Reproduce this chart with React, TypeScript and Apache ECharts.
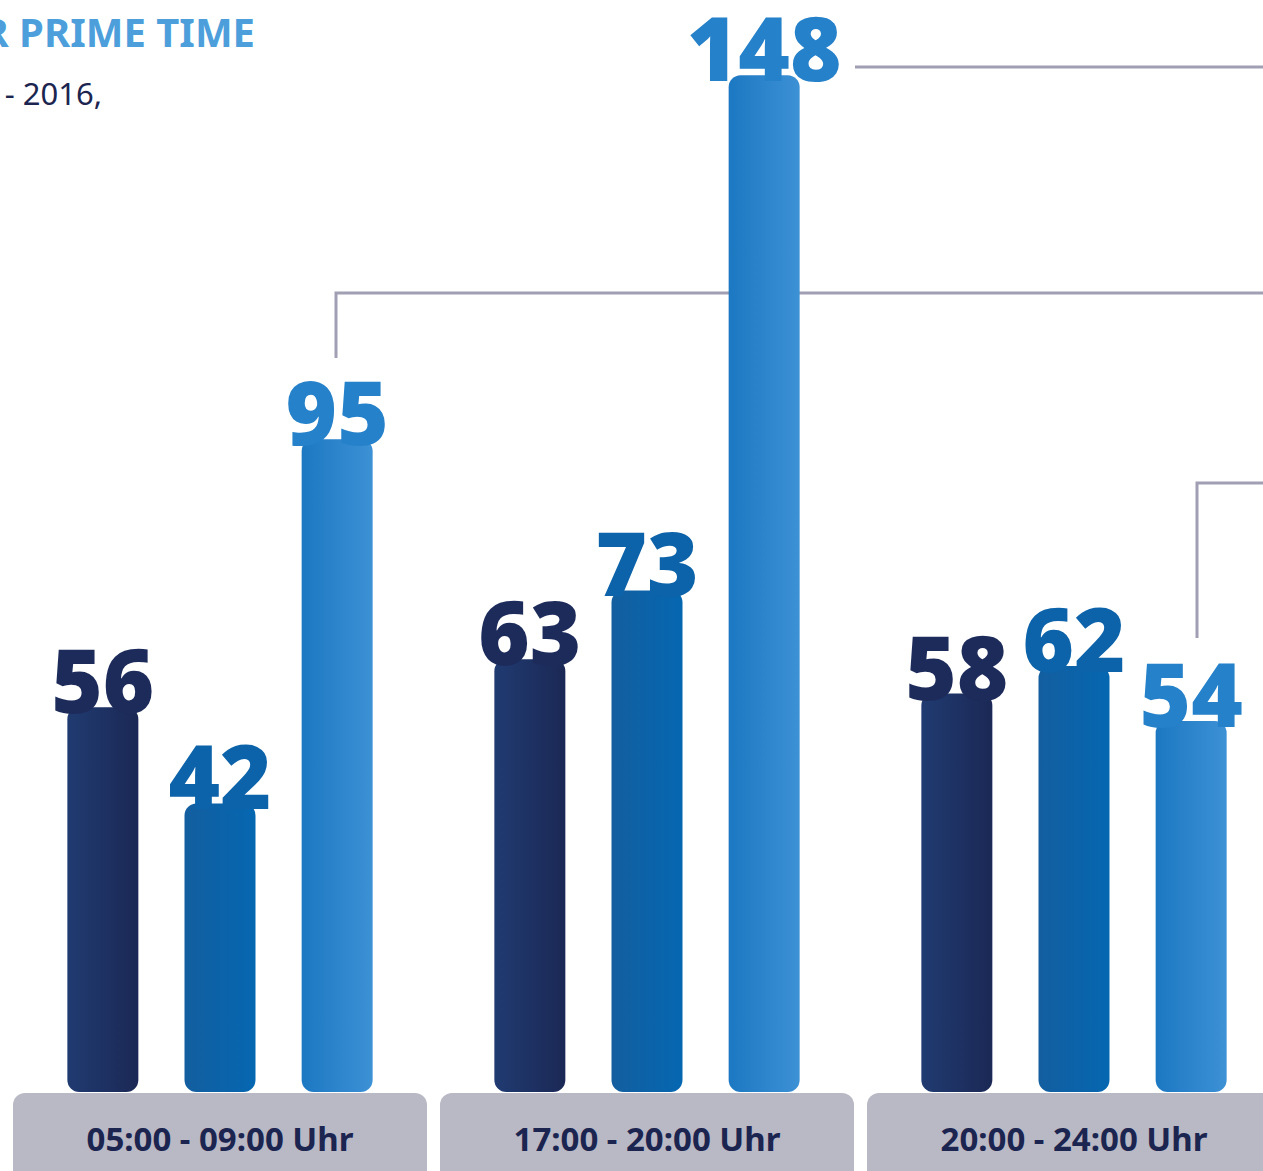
import React, { useEffect, useRef } from "react";
import * as echarts from "echarts";

const categories = ["05:00 - 09:00 Uhr", "17:00 - 20:00 Uhr", "20:00 - 24:00 Uhr"];
const seriesA = [56, 63, 58];
const seriesB = [42, 73, 62];
const seriesC = [95, 148, 54];
const titleText = "R PRIME TIME";
const subtitleText = "- 2016,";

const FONT = "'Noto Sans', 'Open Sans', sans-serif";
const LINE = "#a19fb3";

function grad(left: string, right: string) {
  return new echarts.graphic.LinearGradient(0, 0, 1, 0, [
    { offset: 0, color: left },
    { offset: 1, color: right },
  ]);
}

function barSeries(name: string, data: number[], left: string, right: string, labelColor: string) {
  return {
    name,
    type: "bar",
    data,
    z: 5,
    barWidth: 71,
    barGap: "65%",
    itemStyle: { color: grad(left, right), borderRadius: 12 },
    label: {
      show: true,
      position: "top",
      distance: -7,
      color: labelColor,
      fontFamily: FONT,
      fontWeight: 900,
      fontSize: 88,
      lineHeight: 70,
    },
  };
}

export default function App() {
  const ref = useRef<HTMLDivElement>(null);
  useEffect(() => {
    document.body.style.margin = "0";
    const chart = echarts.init(ref.current!, null, { renderer: "svg" });
    chart.setOption({
      animation: false,
      backgroundColor: "#ffffff",
      grid: { left: 6.5, width: 1281, top: 61.5, height: 1030.5, outerBoundsMode: "none", containLabel: false },
      xAxis: {
        type: "category",
        data: categories,
        axisLine: { show: false },
        axisTick: { show: false },
        axisLabel: {
          interval: 0,
          margin: 1,
          backgroundColor: "#b9b8c5",
          borderRadius: 12,
          width: 414,
          height: 90,
          lineHeight: 90,
          align: "center",
          color: "#1b2550",
          fontFamily: FONT,
          fontWeight: 700,
          fontSize: 33,
        },
      },
      yAxis: {
        type: "value",
        min: 0,
        max: 150,
        show: false,
        splitLine: { show: false },
      },
      series: [
        barSeries("A", seriesA, "#203b71", "#1b2855", "#1d2b5b"),
        barSeries("B", seriesB, "#135e9f", "#0567b1", "#0c63a9"),
        barSeries("C", seriesC, "#1c78c2", "#3d91d5", "#2581c9"),
      ],
      graphic: [
        {
          type: "text",
          z: 10,
          style: {
            text: titleText,
            x: 255,
            y: 31,
            align: "right",
            verticalAlign: "middle",
            fill: "#4d9fdc",
            font: `700 40px ${FONT}`,
          },
        },
        {
          type: "text",
          z: 10,
          style: {
            text: subtitleText,
            x: 102,
            y: 93,
            align: "right",
            verticalAlign: "middle",
            fill: "#1b2550",
            font: `400 31px ${FONT}`,
          },
        },
        {
          type: "polyline",
          z: 0,
          shape: { points: [[855, 67], [1263, 67]] },
          style: { stroke: LINE, lineWidth: 3, fill: null },
        },
        {
          type: "polyline",
          z: 0,
          shape: { points: [[336, 358], [336, 293], [1263, 293]] },
          style: { stroke: LINE, lineWidth: 3, fill: null },
        },
        {
          type: "polyline",
          z: 0,
          shape: { points: [[1197, 638], [1197, 483], [1263, 483]] },
          style: { stroke: LINE, lineWidth: 3, fill: null },
        },
      ],
    });
    return () => chart.dispose();
  }, []);
  return <div ref={ref} style={{ width: 1263, height: 1171 }} />;
}
